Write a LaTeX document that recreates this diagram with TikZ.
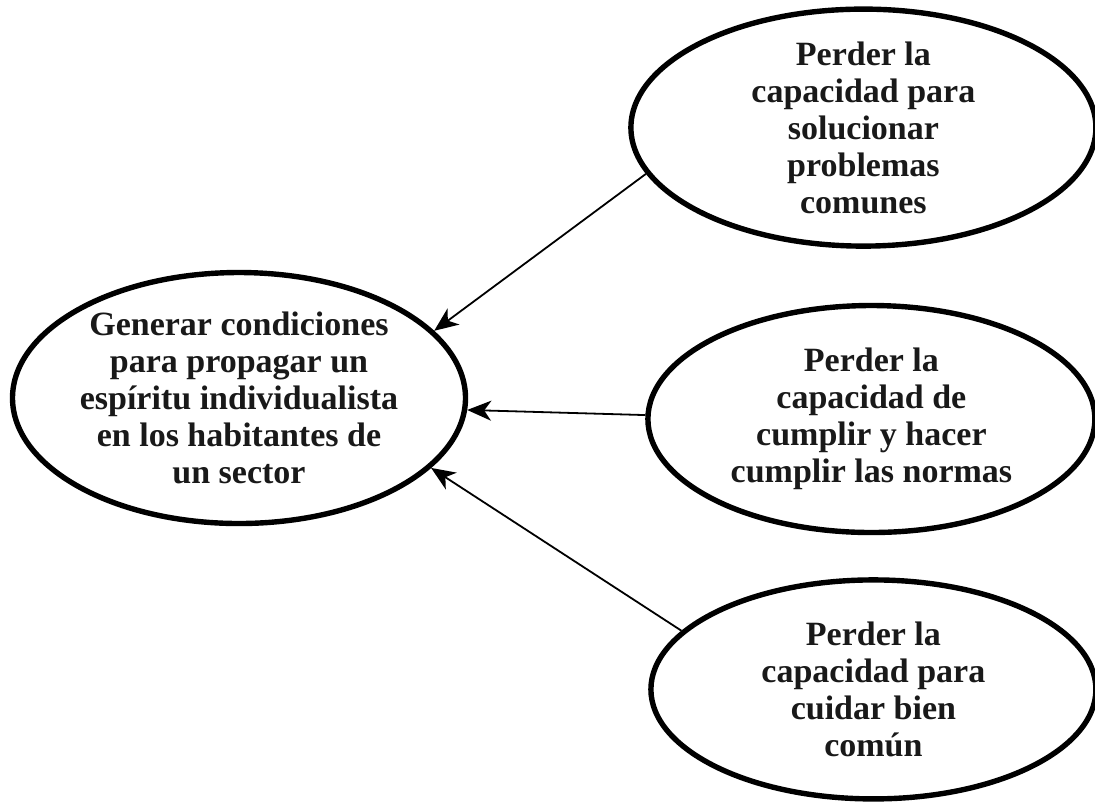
\documentclass[tikz,border=0pt]{standalone}
\usepackage{fontspec}
\setmainfont{Liberation Serif}
\usepackage{tikz}
\usetikzlibrary{positioning, shapes.geometric, arrows.meta}

\begin{document}
\begin{tikzpicture}[
    x=0.5pt, y=-0.5pt,
    node distance=25pt,
    bubble/.style={ellipse, draw, line width=2.7pt, align=center, inner xsep=0pt, inner ysep=-6pt,
        font=\fontsize{17pt}{18.5pt}\selectfont\bfseries, text=black!90},
    arrow/.style={-{Stealth[length=12pt, width=10pt, inset=3.5pt]}, line width=0.9pt}
]
\useasboundingbox (0,0) rectangle (1095,805);

% Nodes
\node[bubble, minimum width=226.5pt, minimum height=125.5pt] (goal) at (239,398)
    {Generar condiciones\\para propagar un\\espíritu individualista\\en los habitantes de\\un sector};
\node[bubble, minimum width=223.5pt, minimum height=113.5pt, right=88.5pt of goal, yshift=-10.5pt] (normas)
    {Perder la\\capacidad de\\cumplir y hacer\\cumplir las normas};
\node[bubble, minimum width=232.5pt, minimum height=118.5pt, above=27pt of normas, xshift=-4pt] (problemas)
    {Perder la\\capacidad para\\solucionar\\problemas\\comunes};
\node[bubble, minimum width=222.5pt, minimum height=109.5pt, below=21pt of normas, xshift=1pt] (bien)
    {Perder la\\capacidad para\\cuidar bien\\común};

% Arrows
\draw[arrow] (problemas.192) -- (goal.19);
\draw[arrow] (normas.179) -- (goal.-3);
\draw[arrow] (bien.163) -- (goal.-20);

\end{tikzpicture}
\end{document}
